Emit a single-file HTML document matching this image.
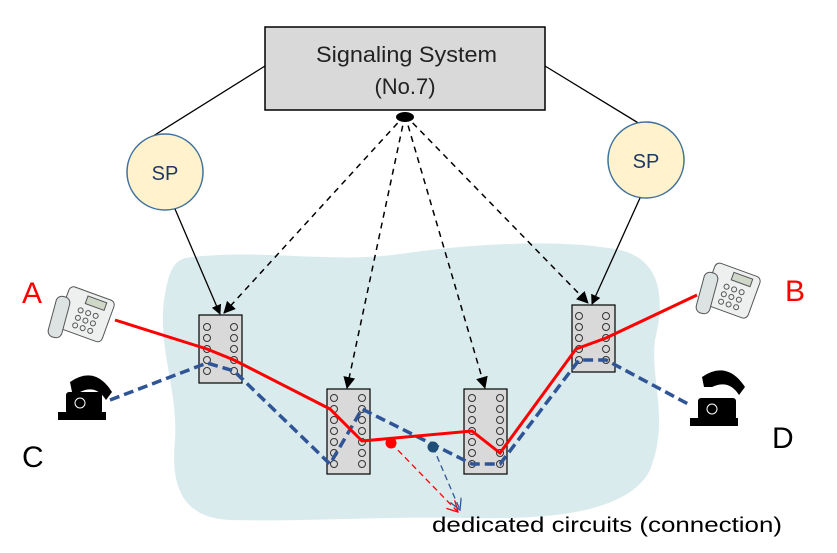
<!DOCTYPE html>
<html><head><meta charset="utf-8"><style>
body{margin:0;background:#fff;}
svg{display:block;font-family:"Liberation Sans",sans-serif;}
</style></head><body>
<svg width="837" height="553" viewBox="0 0 837 553" xmlns="http://www.w3.org/2000/svg">
<defs>
<marker id="ah" markerWidth="10" markerHeight="10" refX="9" refY="5" orient="auto" markerUnits="userSpaceOnUse"><path d="M0,0 L10,5 L0,10 z" fill="#000"/></marker>
<marker id="ahb" markerWidth="12" markerHeight="12" refX="11" refY="6" orient="auto" markerUnits="userSpaceOnUse"><path d="M0,0 L12,6 L0,12 z" fill="#000"/></marker>
<marker id="or" markerWidth="12" markerHeight="12" refX="11" refY="6" orient="auto" markerUnits="userSpaceOnUse"><path d="M0,0 L11,6 L0,12" fill="none" stroke="#f00" stroke-width="1.3"/></marker>
<marker id="ob" markerWidth="12" markerHeight="12" refX="11" refY="6" orient="auto" markerUnits="userSpaceOnUse"><path d="M0,0 L11,6 L0,12" fill="none" stroke="#2f5597" stroke-width="1.3"/></marker>
</defs>
<path d="M185,258 C260,248 330,264 400,254 C470,244 560,238 620,250 C662,260 665,300 655,340 C650,380 670,420 650,470 C630,510 560,520 470,518 C380,516 300,522 230,520 C185,518 170,490 175,440 C178,390 158,350 164,300 C168,275 172,262 185,258 Z" fill="#daebed"/>
<rect x="265" y="27" width="280" height="83" fill="#d9d9d9" stroke="#000" stroke-width="1.5"/>
<text x="316" y="62" font-size="22" textLength="181" lengthAdjust="spacingAndGlyphs" fill="#222">Signaling System</text>
<text x="405" y="94" font-size="22" text-anchor="middle" fill="#222">(No.7)</text>
<line x1="265" y1="66" x2="150" y2="138" stroke="#000" stroke-width="1.3"/>
<line x1="545" y1="66" x2="640" y2="124" stroke="#000" stroke-width="1.3"/>
<circle cx="165" cy="172" r="38" fill="#fff2cc" stroke="#41719c" stroke-width="1.5"/>
<circle cx="646" cy="160" r="38" fill="#fff2cc" stroke="#41719c" stroke-width="1.5"/>
<text x="165" y="180" font-size="20" text-anchor="middle" fill="#1f3864">SP</text>
<text x="646" y="168" font-size="20" text-anchor="middle" fill="#1f3864">SP</text>
<line x1="175" y1="209" x2="220" y2="314" stroke="#000" stroke-width="1.3" marker-end="url(#ah)"/>
<line x1="640" y1="198" x2="592" y2="304" stroke="#000" stroke-width="1.3" marker-end="url(#ah)"/>
<g stroke="#000" stroke-width="1.5" stroke-dasharray="6,5" fill="none">
<line x1="405" y1="115" x2="224" y2="313" marker-end="url(#ahb)"/>
<line x1="405" y1="115" x2="347" y2="388" marker-end="url(#ahb)"/>
<line x1="405" y1="115" x2="485" y2="388" marker-end="url(#ahb)"/>
<line x1="405" y1="115" x2="588" y2="303" marker-end="url(#ahb)"/>
</g>
<ellipse cx="405" cy="117" rx="9" ry="5" fill="#000"/>
<g fill="#d9d9d9" stroke="#000" stroke-width="1.2">
<rect x="199" y="315" width="43" height="68"/>
<rect x="327" y="389" width="43" height="85"/>
<rect x="464" y="389" width="43" height="85"/>
<rect x="572" y="305" width="43" height="67"/>
</g>
<g fill="none" stroke="#333" stroke-width="1">
<circle cx="207" cy="327" r="3.5"/><circle cx="207" cy="338" r="3.5"/><circle cx="207" cy="349" r="3.5"/><circle cx="207" cy="360" r="3.5"/><circle cx="207" cy="371" r="3.5"/>
<circle cx="234" cy="327" r="3.5"/><circle cx="234" cy="338" r="3.5"/><circle cx="234" cy="349" r="3.5"/><circle cx="234" cy="360" r="3.5"/><circle cx="234" cy="371" r="3.5"/>
<circle cx="334" cy="398" r="3.5"/><circle cx="334" cy="409" r="3.5"/><circle cx="334" cy="420" r="3.5"/><circle cx="334" cy="431" r="3.5"/><circle cx="334" cy="442" r="3.5"/><circle cx="334" cy="453" r="3.5"/><circle cx="334" cy="464" r="3.5"/>
<circle cx="362" cy="398" r="3.5"/><circle cx="362" cy="409" r="3.5"/><circle cx="362" cy="420" r="3.5"/><circle cx="362" cy="431" r="3.5"/><circle cx="362" cy="442" r="3.5"/><circle cx="362" cy="453" r="3.5"/><circle cx="362" cy="464" r="3.5"/>
<circle cx="472" cy="398" r="3.5"/><circle cx="472" cy="409" r="3.5"/><circle cx="472" cy="420" r="3.5"/><circle cx="472" cy="431" r="3.5"/><circle cx="472" cy="442" r="3.5"/><circle cx="472" cy="453" r="3.5"/><circle cx="472" cy="464" r="3.5"/>
<circle cx="500" cy="398" r="3.5"/><circle cx="500" cy="409" r="3.5"/><circle cx="500" cy="420" r="3.5"/><circle cx="500" cy="431" r="3.5"/><circle cx="500" cy="442" r="3.5"/><circle cx="500" cy="453" r="3.5"/><circle cx="500" cy="464" r="3.5"/>
<circle cx="579" cy="316" r="3.5"/><circle cx="579" cy="327" r="3.5"/><circle cx="579" cy="338" r="3.5"/><circle cx="579" cy="349" r="3.5"/><circle cx="579" cy="360" r="3.5"/>
<circle cx="606" cy="316" r="3.5"/><circle cx="606" cy="327" r="3.5"/><circle cx="606" cy="338" r="3.5"/><circle cx="606" cy="349" r="3.5"/><circle cx="606" cy="360" r="3.5"/>
</g>
<polyline points="110,400 207,363 234,371 330,464 362,409 472,464 500,464 579,360 606,360 690,405" fill="none" stroke="#2f5597" stroke-width="3.5" stroke-dasharray="10,5"/>
<polyline points="115,320 207,349 234,360 330,409 362,441 472,431 500,453 576,349 606,338 697,295" fill="none" stroke="#f00" stroke-width="3"/>
<line x1="391" y1="443" x2="458" y2="512" stroke="#f00" stroke-width="1.3" stroke-dasharray="6,4" marker-end="url(#or)"/>
<line x1="433" y1="447" x2="460" y2="510" stroke="#2f5597" stroke-width="1.3" stroke-dasharray="6,4" marker-end="url(#ob)"/>
<circle cx="391" cy="443" r="5.5" fill="#f00"/>
<circle cx="433" cy="447" r="5.5" fill="#1f4e79"/>
<!-- desk phones -->
<g stroke="#555" stroke-width="1">
<g transform="rotate(20 85 313)">
<rect x="62" y="292" width="48" height="44" rx="5" fill="#eef0f0"/>
<rect x="82" y="296" width="20" height="8" fill="#cfd8c8"/>
<g fill="none"><circle cx="80" cy="312" r="2.5"/><circle cx="88" cy="312" r="2.5"/><circle cx="96" cy="312" r="2.5"/><circle cx="80" cy="320" r="2.5"/><circle cx="88" cy="320" r="2.5"/><circle cx="96" cy="320" r="2.5"/><circle cx="80" cy="328" r="2.5"/><circle cx="88" cy="328" r="2.5"/><circle cx="96" cy="328" r="2.5"/></g>
</g>
<rect x="52" y="296" width="14" height="42" rx="6" fill="#dde2e2" transform="rotate(15 59 317)"/>
<g transform="rotate(20 730 289)">
<rect x="708" y="268" width="48" height="44" rx="5" fill="#eef0f0"/>
<rect x="728" y="272" width="20" height="8" fill="#cfd8c8"/>
<g fill="none"><circle cx="726" cy="288" r="2.5"/><circle cx="734" cy="288" r="2.5"/><circle cx="742" cy="288" r="2.5"/><circle cx="726" cy="296" r="2.5"/><circle cx="734" cy="296" r="2.5"/><circle cx="742" cy="296" r="2.5"/><circle cx="726" cy="304" r="2.5"/><circle cx="734" cy="304" r="2.5"/><circle cx="742" cy="304" r="2.5"/></g>
</g>
<rect x="700" y="272" width="14" height="42" rx="6" fill="#dde2e2" transform="rotate(15 707 293)"/>
</g>
<!-- black phones -->
<g fill="#000">
<path d="M70,382 Q95,365 112,392 L106,400 Q96,384 80,392 L72,392 Z"/>
<rect x="66" y="392" width="36" height="22" rx="3"/>
<rect x="58" y="412" width="48" height="8"/>
<circle cx="80" cy="403" r="5" fill="none" stroke="#fff"/>
<path d="M702,377 Q727,360 745,387 L739,395 Q729,379 712,387 L704,387 Z"/>
<rect x="698" y="398" width="38" height="22" rx="3"/>
<rect x="690" y="418" width="48" height="8"/>
<circle cx="712" cy="409" r="5" fill="none" stroke="#fff"/>
</g>
<text x="22" y="303" font-size="30" fill="#f00">A</text>
<text x="785" y="301" font-size="30" fill="#f00">B</text>
<text x="22" y="467" font-size="30" fill="#000">C</text>
<text x="772" y="448" font-size="30" fill="#000">D</text>
<text x="432" y="532" font-size="21" textLength="350" lengthAdjust="spacingAndGlyphs" fill="#000">dedicated circuits (connection)</text>
</svg>
</body></html>
